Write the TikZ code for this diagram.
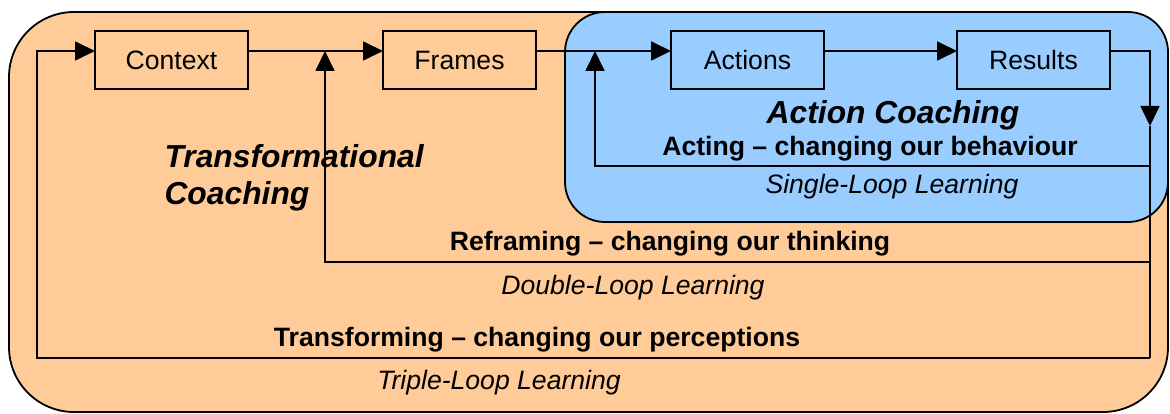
\documentclass[tikz,border=0pt]{standalone}
\usepackage{fontspec}
\setmainfont{Liberation Sans}
\usepackage{xcolor}
\usetikzlibrary{arrows.meta, positioning, calc}
\definecolor{peach}{HTML}{FFCC99}
\definecolor{skyblue}{HTML}{99CCFF}
\tikzset{
  stage/.style={rectangle, draw=black, line width=1.8pt,
                fill=#1, font=\fontsize{26.6}{30}\selectfont,
                minimum width=153pt, minimum height=58pt,
                inner sep=0pt, outer sep=0pt, align=center},
  stage/.default=peach,
  arr/.style={-{Triangle[length=20pt,width=19pt]}, line width=1.8pt, black},
  loopline/.style={line width=1.8pt, black},
  panel/.style={draw=black, line width=1.8pt, rounded corners=#1},
  boldlbl/.style={font=\fontsize{26.6}{30}\selectfont\bfseries},
  itlbl/.style={font=\fontsize{26.6}{30}\selectfont\itshape},
  biglbl/.style={font=\fontsize{31.8}{37}\selectfont\bfseries\itshape, align=left},
}

\begin{document}
\begin{tikzpicture}[x=1pt, y=-1pt]
  \useasboundingbox (0,0) rectangle (1170,414);
  %% Panels
  \draw[panel=65pt, fill=peach] (9,12) rectangle (1168,412);
  \draw[panel=40pt, fill=skyblue] (565,12) rectangle (1168,222);
  %% Stages
  \node[stage] (ctx) at (171.5,60) {Context};
  \node[stage, right=135pt of ctx] (frm) {Frames};
  \node[stage=skyblue, right=135pt of frm] (act) {Actions};
  \node[stage=skyblue, right=133pt of act] (res) {Results};
  \foreach \a/\b in {ctx/frm,frm/act,act/res}
    \draw[arr] ([yshift=9pt]\a.east) -- ([yshift=9pt]\b.west);
  %% Loop corners
  \coordinate (down) at (1150,126);
  \coordinate (sgl)  at (1150,166);
  \coordinate (dbl)  at (1150,262);
  \coordinate (tpl)  at (1150,358);
  \coordinate (sglup) at (595,51);
  \coordinate (dblup) at (325,51);
  \coordinate (tplup) at (37,51);
  %% Loops
  \draw[arr] ([yshift=9pt]res.east) -| (down);
  \draw[loopline] (down) -- (tpl);
  \draw[arr] (sgl) -| (sglup);
  \draw[arr] (dbl) -| (dblup);
  \draw[arr] (tpl) -| (tplup) -- ([yshift=9pt]ctx.west);
  %% Labels
  \node[biglbl, anchor=west] (tc) at (161,178) {Transformational\\Coaching};
  \node[biglbl] (ac) at (893,115) {Action Coaching};
  \node[boldlbl] (acting) at (870,149) {Acting – changing our behaviour};
  \node[itlbl] (sll) at (892,187) {Single-Loop Learning};
  \node[boldlbl] (refr) at (670,244) {Reframing – changing our thinking};
  \node[itlbl] (dll) at (633,288) {Double-Loop Learning};
  \node[boldlbl] (trans) at (537,340) {Transforming – changing our perceptions};
  \node[itlbl] (tll) at (499,383) {Triple-Loop Learning};
\end{tikzpicture}
\end{document}
